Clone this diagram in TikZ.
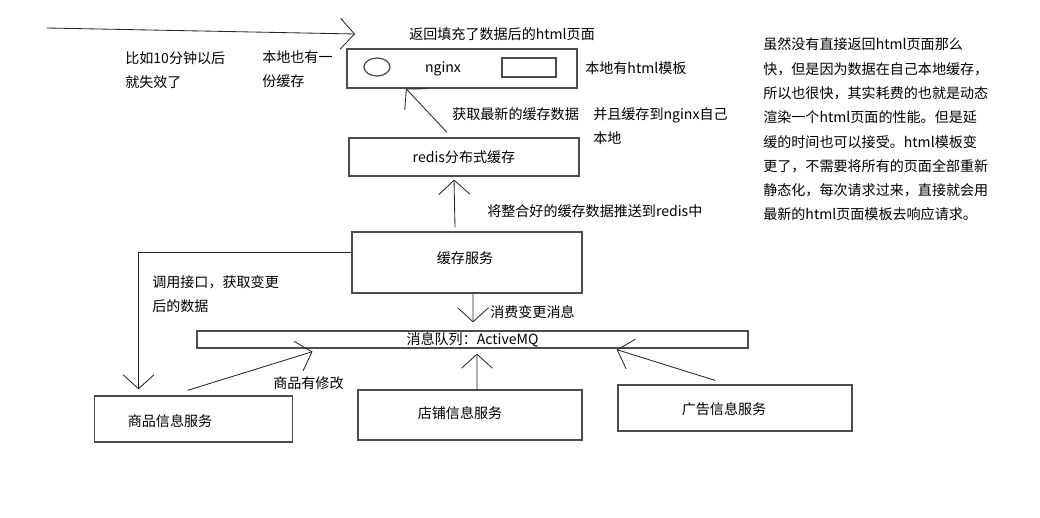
\documentclass[tikz,border=0pt]{standalone}
\usepackage{fontspec}
\newfontfamily\cjk{Noto Sans CJK SC}
\usetikzlibrary{arrows.meta,calc,shapes.geometric}

\tikzset{
  box/.style={draw=black!70, line width=0.9pt, inner sep=0pt},
  note/.style={font=\cjk\fontsize{10}{17}\selectfont, align=left, inner sep=0pt, anchor=west},
  arr/.style={draw=black!85, line width=0.6pt, -{Straight Barb[length=10pt,width=22pt]}},
}

\begin{document}
\begin{tikzpicture}[x=0.025cm,y=-0.025cm]
  \useasboundingbox (0,0) rectangle (1040,518);

  % top row: nginx
  \node[box, minimum width=5.75cm, minimum height=0.975cm] (nginx) at (462,68.5) {};
  \node[box, ellipse, minimum width=0.65cm, minimum height=0.45cm] (localmark) at (377,67) {};
  \node[box, minimum width=1.35cm, minimum height=0.475cm] (tplmark) at (529,67.5) {};
  \node[note, anchor=center] (nginxtxt) at (443,69) {nginx};

  % redis and cache service
  \node[box, minimum width=5.75cm, minimum height=0.95cm, font=\cjk\fontsize{10}{12}\selectfont] (redis) at (464,157) {redis分布式缓存};
  \node[box, minimum width=5.75cm, minimum height=1.525cm] (cache) at (467,262.5) {};
  \node[note, anchor=center] (cachetxt) at (465,258) {缓存服务};

  % message queue
  \node[box, minimum width=13.775cm, minimum height=0.425cm, font=\cjk\fontsize{10}{12}\selectfont] (mq) at (472.5,339.5) {消息队列：ActiveMQ};

  % services at the bottom
  \node[box, minimum width=4.95cm, minimum height=1.15cm] (goods) at (193.5,419) {};
  \node[note, anchor=center] (goodstxt) at (170,421) {商品信息服务};
  \node[box, minimum width=5.6cm, minimum height=1.25cm] (shop) at (470,415) {};
  \node[note, anchor=center] (shoptxt) at (460,413) {店铺信息服务};
  \node[box, minimum width=5.85cm, minimum height=1.15cm] (ad) at (735,408) {};
  \node[note, anchor=center] (adtxt) at (724,409) {广告信息服务};

  % texts
  \node[note] (backtxt) at (409,34) {返回填充了数据后的html页面};
  \node[note] (expire) at (125,70.5) {比如10分钟以后\\就失效了};
  \node[note] (localcopy) at (262,69) {本地也有一\\份缓存};
  \node[note] (tpltxt) at (585,68) {本地有html模板};
  \node[note] (fetch) at (452,114) {获取最新的缓存数据};
  \node[note] (store) at (593,126.5) {并且缓存到nginx自己\\本地};
  \node[note] (push) at (487,211) {将整合好的缓存数据推送到redis中};
  \node[note] (consume) at (490,312) {消费变更消息};
  \node[note] (callapi) at (152,294.5) {调用接口，获取变更\\后的数据};
  \node[note] (changed) at (273,383) {商品有修改};
  \node[note, font=\cjk\fontsize{10}{17.3}\selectfont] (remark) at (763,129.5) {虽然没有直接返回html页面那么\\
快，但是因为数据在自己本地缓存，\\
所以也很快，其实耗费的也就是动态\\
渲染一个html页面的性能。但是延\\
缓的时间也可以接受。html模板变\\
更了，不需要将所有的页面全部重新\\
静态化，每次请求过来，直接就会用\\
最新的html页面模板去响应请求。};

  % connectors
  \coordinate (req) at (47,28);
  \coordinate (reqend) at (355,34);
  \draw[arr] (req) -- (reqend);
  \draw[arr] ($(redis.north)+(-17,-5)$) -- ($(nginx.south)+(-56,0)$);
  \draw[arr] ($(cache.north)+(-12,-4)$) -- ($(redis.south)+(-10,3)$);
  \draw[arr] ($(cache.south)+(6,0)$) -- ($(mq.north)+(0.5,-8)$);
  \draw[arr] ($(cache.west)+(0,-10)$) -| ($(goods.north)+(-55,-6)$);
  \draw[arr] ($(goods.north)+(-6,-5)$) -- ($(mq.south)+(-160,3)$);
  \draw[arr] ($(shop.north)+(7,0)$) -- ($(mq.south)+(4.5,5)$);
  \draw[arr] ($(ad.north)+(-20,-4)$) -- ($(mq.south east)+(-132,1)$);
\end{tikzpicture}
\end{document}
